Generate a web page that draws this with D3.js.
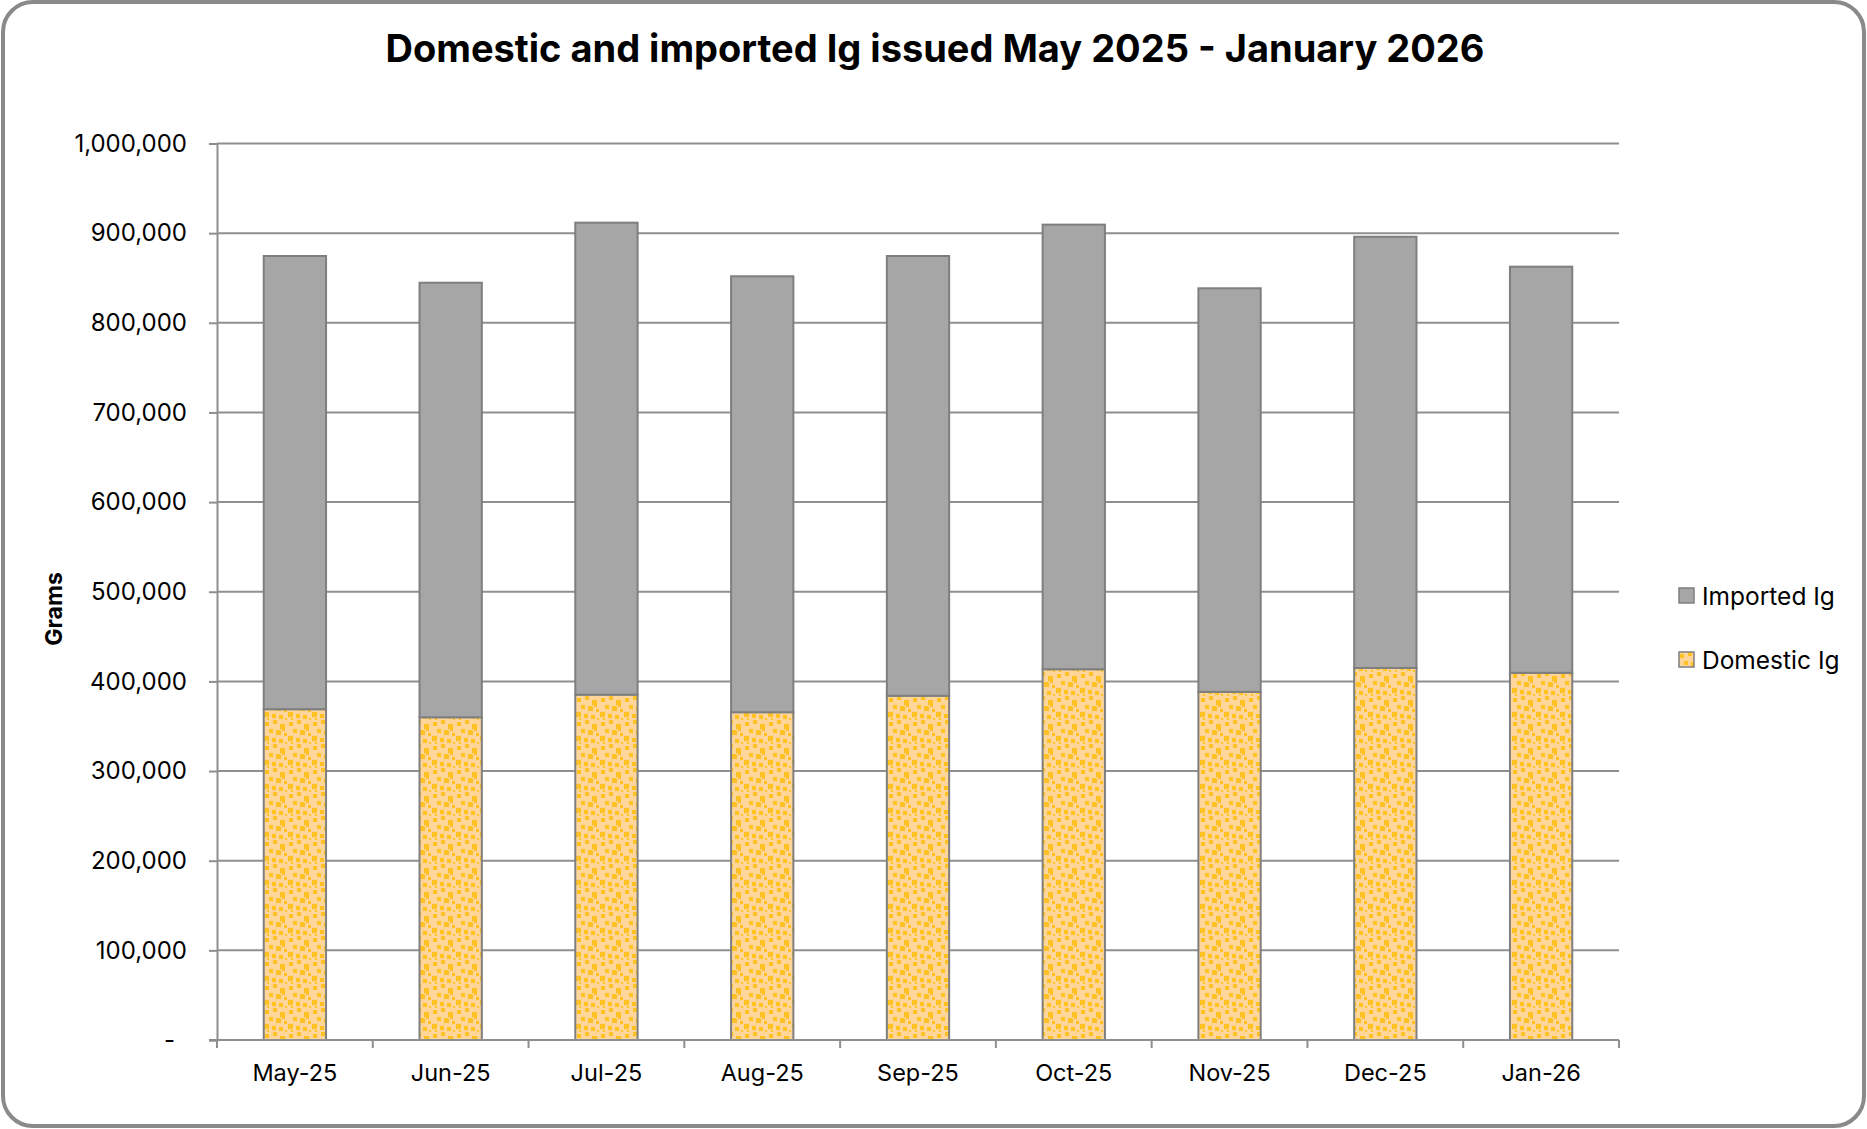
<!DOCTYPE html>
<html>
<head>
<meta charset="utf-8">
<script src="https://cdn.jsdelivr.net/npm/d3@7"></script>
<style>
  body { margin: 0; background: #fff; }
  text { font-family: Inter, "Open Sans", sans-serif; fill: #000; }
</style>
</head>
<body>
<div id="chart"></div>
<script>
// chart data (grams)
const months = ["May-25", "Jun-25", "Jul-25", "Aug-25", "Sep-25", "Oct-25", "Nov-25", "Dec-25", "Jan-26"];
const domestic = [369000, 360000, 385200, 365600, 384000, 413600, 388300, 415000, 409600];
const imported = [505500, 484700, 526500, 486300, 490500, 495900, 450200, 481000, 453000];
const yTickValues = [0, 100000, 200000, 300000, 400000, 500000, 600000, 700000, 800000, 900000, 1000000];
const seriesNames = { domestic: "Domestic Ig", imported: "Imported Ig" };

const width = 1867;
const height = 1129;
const plot = { left: 217, right: 1619, top: 143.5, bottom: 1040 };
const gridColor = "#8f8f8f";

const svg = d3.select("#chart")
  .append("svg")
  .attr("width", width)
  .attr("height", height);

// dotted fill used by the domestic series
const defs = svg.append("defs");
const pat = defs.append("pattern")
  .attr("id", "dots")
  .attr("patternUnits", "userSpaceOnUse")
  .attr("width", 24)
  .attr("height", 24);
pat.append("rect").attr("width", 24).attr("height", 24).attr("fill", "#ffd699");
const specks = [[1, 2, 4], [9, 0, 4], [16, 4, 5], [5, 9, 4], [12, 10, 5], [20, 13, 3],
  [0, 16, 5], [8, 18, 4], [15, 19, 4], [21, 22, 2], [3, 22, 2], [18, 8, 3]];
specks.forEach(([sx, sy, s]) => {
  pat.append("rect").attr("x", sx).attr("y", sy).attr("width", s).attr("height", s)
    .attr("fill", "#ffc222");
});

// outer frame
svg.append("rect")
  .attr("x", 3).attr("y", 2)
  .attr("width", width - 6).attr("height", height - 5)
  .attr("rx", 30)
  .attr("fill", "#fff")
  .attr("stroke", "#8a8a8a")
  .attr("stroke-width", 4);

// title
svg.append("text")
  .attr("x", 935)
  .attr("y", 62)
  .attr("text-anchor", "middle")
  .style("font-size", "38px")
  .style("font-weight", "bold")
  .text("Domestic and imported Ig issued May 2025 - January 2026");

const x = d3.scaleBand()
  .domain(months)
  .range([plot.left, plot.right])
  .paddingInner(0.6)
  .paddingOuter(0.3);

const y = d3.scaleLinear()
  .domain([0, 1000000])
  .range([plot.bottom, plot.top]);

// gridlines
svg.append("g")
  .selectAll("line")
  .data(yTickValues.filter((d) => d > 0))
  .enter()
  .append("line")
  .attr("x1", plot.left)
  .attr("x2", plot.right)
  .attr("y1", (d) => y(d))
  .attr("y2", (d) => y(d))
  .attr("stroke", gridColor)
  .attr("stroke-width", 2);

// y axis
const yAxis = svg.append("g")
  .attr("transform", `translate(${plot.left},0)`)
  .call(
    d3.axisLeft(y)
      .tickValues(yTickValues)
      .tickSize(8)
      .tickPadding(22)
      .tickFormat((d) => (d === 0 ? "-" : d3.format(",")(d)))
  );
yAxis.select(".domain").attr("stroke", gridColor).attr("stroke-width", 2);
yAxis.selectAll(".tick line").attr("stroke", gridColor).attr("stroke-width", 2);
yAxis.selectAll(".tick text")
  .style("font-size", "24px")
  .attr("dx", (d) => (d === 0 ? -12 : 0));

svg.append("text")
  .attr("transform", "translate(54,609) rotate(-90)")
  .attr("text-anchor", "middle")
  .attr("dy", "0.35em")
  .style("font-size", "23px")
  .style("font-weight", "bold")
  .text("Grams");

// stacked bars
const table = months.map((m, i) => ({ month: m, domestic: domestic[i], imported: imported[i] }));
const stacked = d3.stack().keys(["domestic", "imported"])(table);
const fills = { domestic: "url(#dots)", imported: "#a6a6a6" };

svg.append("g")
  .selectAll("g")
  .data(stacked)
  .enter()
  .append("g")
  .attr("fill", (s) => fills[s.key])
  .selectAll("rect")
  .data((s) => s)
  .enter()
  .append("rect")
  .attr("x", (d) => x(d.data.month))
  .attr("width", x.bandwidth())
  .attr("y", (d) => y(d[1]))
  .attr("height", (d) => y(d[0]) - y(d[1]))
  .attr("stroke", "#7f7f7f")
  .attr("stroke-width", 2);

// x axis: line, ticks between categories, labels under bars
const xg = svg.append("g");
xg.append("line")
  .attr("x1", plot.left - 8)
  .attr("x2", plot.right)
  .attr("y1", plot.bottom)
  .attr("y2", plot.bottom)
  .attr("stroke", gridColor)
  .attr("stroke-width", 2);
const half = x.step() / 2;
const edges = months.map((m) => x(m) + x.bandwidth() / 2 - half).concat([plot.right]);
xg.selectAll(".xt")
  .data(edges)
  .enter()
  .append("line")
  .attr("x1", (d) => d)
  .attr("x2", (d) => d)
  .attr("y1", plot.bottom)
  .attr("y2", plot.bottom + 8)
  .attr("stroke", gridColor)
  .attr("stroke-width", 2);
xg.selectAll(".xl")
  .data(months)
  .enter()
  .append("text")
  .attr("x", (d) => x(d) + x.bandwidth() / 2)
  .attr("y", 1073)
  .attr("dy", "0.35em")
  .attr("text-anchor", "middle")
  .style("font-size", "23.5px")
  .text((d) => d);

// legend
const legendKeys = ["imported", "domestic"];
const legend = svg.append("g")
  .selectAll("g")
  .data(legendKeys)
  .enter()
  .append("g")
  .attr("transform", (d, i) => `translate(1679,${588 + i * 64})`);
legend.append("rect")
  .attr("width", 15)
  .attr("height", 15)
  .attr("fill", (d) => fills[d])
  .attr("stroke", "#7f7f7f")
  .attr("stroke-width", 1.5);
legend.append("text")
  .attr("x", 23)
  .attr("y", 8)
  .attr("dy", "0.35em")
  .style("font-size", "24.5px")
  .text((d) => seriesNames[d]);
</script>
</body>
</html>
